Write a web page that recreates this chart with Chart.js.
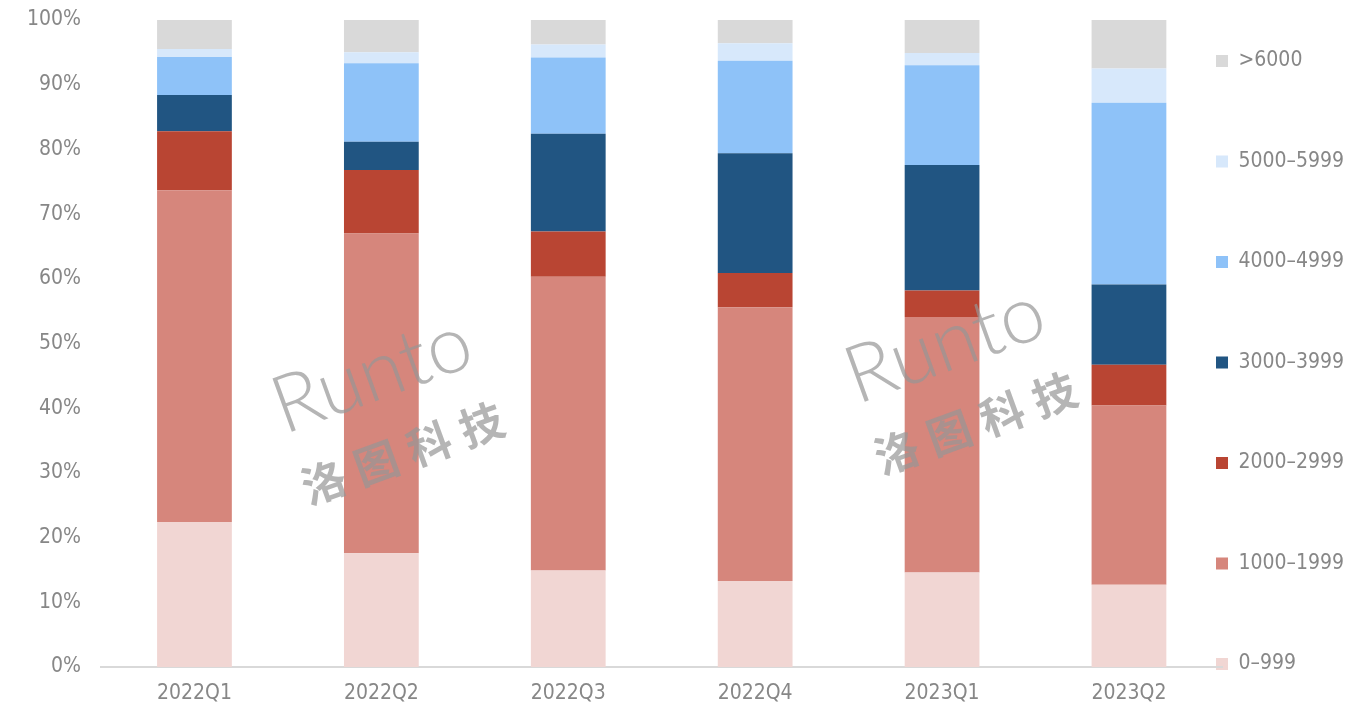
<!DOCTYPE html>
<html>
<head>
<meta charset="utf-8">
<script src="https://cdn.jsdelivr.net/npm/chart.js@4.4.0/dist/chart.umd.min.js"></script>
<style>
  html, body { margin: 0; padding: 0; background: #ffffff; }
  #wrap { width: 1372px; height: 728px; position: relative; }
</style>
</head>
<body>
<div id="wrap"><canvas id="c"></canvas></div>
<script>
const categories = ['2022Q1', '2022Q2', '2022Q3', '2022Q4', '2023Q1', '2023Q2'];
const seriesNames = ['0–999', '1000–1999', '2000–2999', '3000–3999', '4000–4999', '5000–5999', '>6000'];
const s0_999      = [22.4, 17.6, 14.9, 13.3, 14.6, 12.7];
const s1000_1999  = [51.3, 49.4, 45.4, 42.3, 39.5, 27.7];
const s2000_2999  = [9.1, 9.8, 7.0, 5.3, 4.1, 6.3];
const s3000_3999  = [5.6, 4.4, 15.1, 18.5, 19.4, 12.4];
const s4000_4999  = [5.9, 12.1, 11.8, 14.3, 15.4, 28.1];
const s5000_5999  = [1.2, 1.7, 2.0, 2.7, 1.9, 5.3];
const s6000plus   = [4.5, 5.0, 3.8, 3.6, 5.1, 7.5];
const yTickValues = [0, 10, 20, 30, 40, 50, 60, 70, 80, 90, 100];

const seriesValues = [s0_999, s1000_1999, s2000_2999, s3000_3999, s4000_4999, s5000_5999, s6000plus];
const colors = ['#F1D6D3', '#D6867C', '#B94533', '#215582', '#8EC2F8', '#D7E8FB', '#D9D9D9'];

const FONT = '"DejaVu Sans Condensed", "Liberation Sans Narrow", Roboto, sans-serif';
const TXT = '#878787';

const watermark = {
  id: 'watermark',
  afterDatasetsDraw(chart) {
    const ctx = chart.ctx;
    const spots = [[372, 375], [945, 345]];
    ctx.save();
    ctx.fillStyle = 'rgba(150,150,150,0.7)';
    ctx.textAlign = 'center';
    ctx.textBaseline = 'middle';
    spots.forEach(([cx, cy]) => {
      ctx.save();
      ctx.translate(cx, cy);
      ctx.rotate(-20 * Math.PI / 180);
      ctx.font = '300 80px Lato, "Open Sans", sans-serif';
      ctx.fillText('Runto', 0, 0);
      ctx.font = 'bold 44px "Noto Sans CJK SC", sans-serif';
      try { ctx.letterSpacing = '12px'; } catch (e) {}
      ctx.fillText('洛图科技', 8, 84);
      try { ctx.letterSpacing = '0px'; } catch (e) {}
      ctx.restore();
    });
    ctx.restore();
  }
};

const legendShift = {
  id: 'legendShift',
  afterLayout(chart) {
    const lg = chart.legend;
    if (!lg) return;
    const dx = 1211.5 - lg.left;
    lg.left += dx;
    lg.right += dx;
  }
};

new Chart(document.getElementById('c'), {
  type: 'bar',
  data: {
    labels: categories,
    datasets: seriesNames.map((name, i) => ({
      label: name,
      data: seriesValues[i],
      backgroundColor: colors[i],
      borderWidth: 0,
      barPercentage: 0.8,
      categoryPercentage: 0.5
    }))
  },
  options: {
    responsive: true,
    maintainAspectRatio: false,
    animation: false,
    layout: { padding: { left: 7, right: 7, top: 20, bottom: 7 } },
    scales: {
      x: {
        stacked: true,
        grid: { display: false, drawTicks: false },
        border: { display: true, color: '#D9D9D9', width: 2 },
        ticks: { color: TXT, font: { family: FONT, size: 21 }, padding: 14.4 }
      },
      y: {
        stacked: true,
        min: 0,
        max: 100,
        afterBuildTicks(scale) { scale.ticks = yTickValues.map(v => ({ value: v })); },
        afterFit(scale) { scale.paddingTop = 0; },
        grid: { display: false, drawTicks: false },
        border: { display: false },
        ticks: {
          color: TXT,
          font: { family: FONT, size: 21 },
          padding: 20,
          callback: v => v + '%'
        }
      }
    },
    plugins: {
      tooltip: { enabled: false },
      legend: {
        position: 'right',
        align: 'start',
        reverse: true,
        title: { display: true, text: ' ', font: { size: 10, lineHeight: 1 }, padding: { top: 16, bottom: 0 } },
        labels: {
          color: TXT,
          font: { family: FONT, size: 21, lineHeight: 96 / 21 },
          boxWidth: 12,
          boxHeight: 12,
          padding: 4.5,
          generateLabels(chart) {
            const items = Chart.defaults.plugins.legend.labels.generateLabels(chart);
            items.forEach((it, i) => { it.lineWidth = 0; if (i > 0) it.text = [it.text]; });
            return items;
          }
        }
      }
    }
  },
  plugins: [watermark, legendShift]
});
</script>
</body>
</html>
